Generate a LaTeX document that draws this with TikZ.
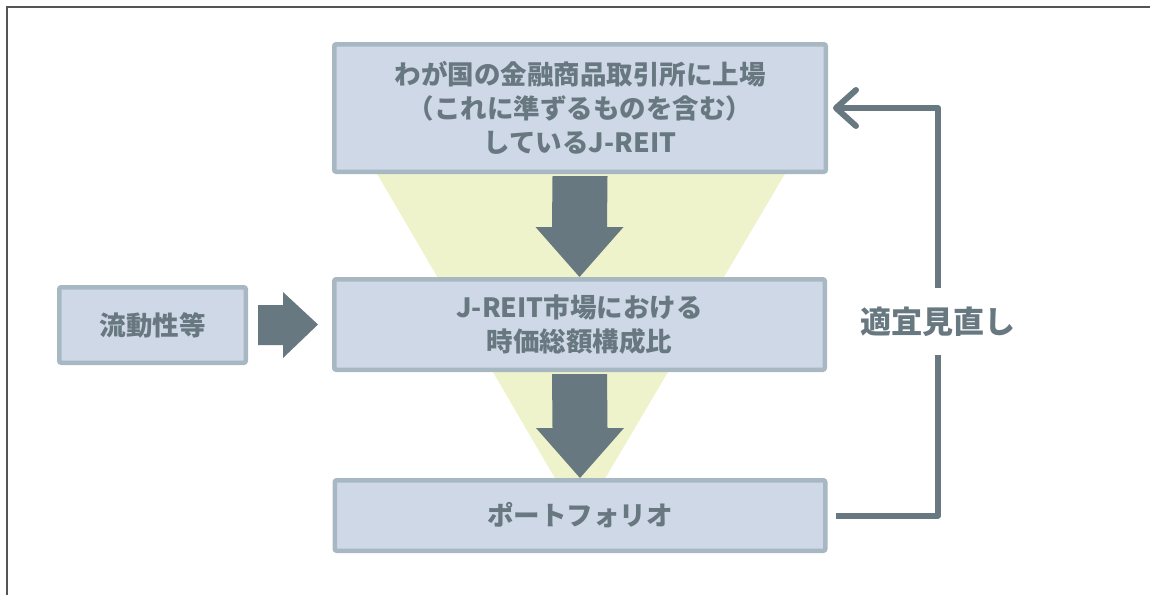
\documentclass[tikz,border=0pt]{standalone}
\usepackage{fontspec}
\usetikzlibrary{arrows.meta,calc}
\newfontfamily\jp{Noto Sans CJK JP}
\definecolor{boxfill}{HTML}{CFD8E6}
\definecolor{boxline}{HTML}{A7B8C2}
\definecolor{ink}{HTML}{687880}
\definecolor{funnel}{HTML}{EEF3CB}
\definecolor{frameline}{HTML}{555555}

\begin{document}
\begin{tikzpicture}[x=1pt, y=-1pt,
    box/.style={draw=boxline, fill=boxfill, line width=4.5pt, rounded corners=2pt,
        text=ink, align=center, inner sep=0pt,
        font=\jp\bfseries\fontsize{26.5}{34}\selectfont},
    blk/.style={fill=ink},
    fb/.style={draw=ink, line width=6pt, line join=round}]
    \useasboundingbox (0,0) rectangle (1150,595);

    \def\downblock#1#2{%
        \fill[blk] ($(#1.south)+(-27.5,2)$) -- ($(#1.south)+(27.5,2)$)
            -- ($(#2.north)+(27.5,-50)$) -- ($(#2.north)+(44,-50)$) -- (#2.north)
            -- ($(#2.north)+(-44,-50)$) -- ($(#2.north)+(-27.5,-50)$) -- cycle;
    }

    % frame, top and left only
    \draw[frameline, line width=1.8pt] (1150,7) -- (7,7) -- (7,595);

    % funnel behind the boxes
    \fill[funnel] (376,172) -- (786,172) -- (580,521) -- cycle;

    \node[box, minimum width=491.5pt, minimum height=127.5pt] (src) at (580,108)
        {わが国の金融商品取引所に上場\\（これに準ずるものを含む）\\しているJ-REIT};
    \node[box, minimum width=490.5pt, minimum height=90.5pt] (cap) at (579.5,324.5)
        {J-REIT市場における\\時価総額構成比};
    \node[box, minimum width=490.5pt, minimum height=70.5pt] (port) at (580,515.5)
        {ポートフォリオ};
    \node[box, minimum width=186.5pt, minimum height=75.5pt] (liq) at (152.5,325)
        {流動性等};
    \node[text=ink, font=\jp\bfseries\fontsize{31}{31}\selectfont,
        minimum height=67pt, inner sep=0pt] (fbl) at (938,321.5) {適宜見直し};

    % block arrows
    \downblock{src}{cap}
    \downblock{cap}{port}
    \fill[blk] ($(liq.east)+(10,-20)$) -- ($(liq.east)+(35,-20)$) -- ($(liq.east)+(35,-33)$)
        -- ($(cap.west)+(-14,0)$) -- ($(liq.east)+(35,33)$) -- ($(liq.east)+(35,20)$)
        -- ($(liq.east)+(10,20)$) -- cycle;

    % feedback
    \draw[fb, shorten <=8pt] (port.east) -| (fbl.south);
    \draw[fb, -{Straight Barb[length=20pt, width=36pt, round]}, shorten >=5pt]
        (fbl.north) |- (src.east);
\end{tikzpicture}
\end{document}
